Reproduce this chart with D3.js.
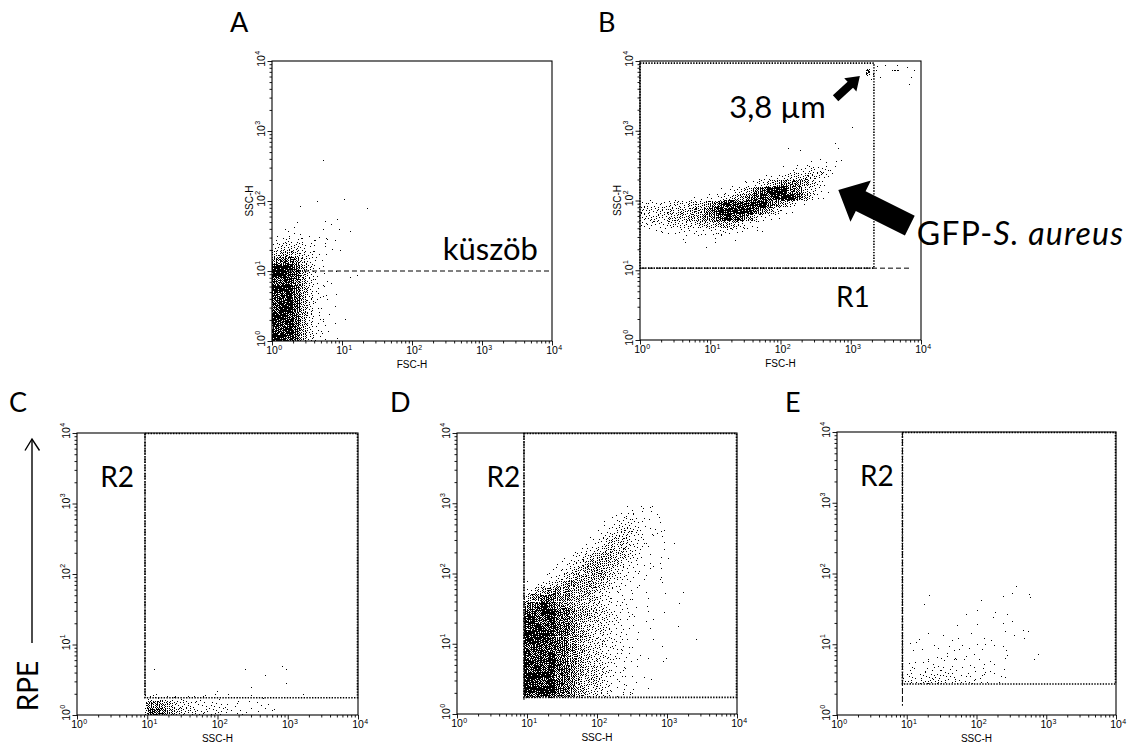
<!DOCTYPE html>
<html><head><meta charset="utf-8">
<script src="https://cdn.jsdelivr.net/npm/d3@7"></script>
<style>
html,body{margin:0;padding:0;background:#fff;}
svg{display:block;}
</style></head><body>
<svg id="chart" width="1131" height="744"></svg>
<script>
// ---------------- DATA (log10 units unless noted) ----------------
const tickExponents = [0, 1, 2, 3, 4];
const panelLetters = ["A", "B", "C", "D", "E"];
const xTitles = ["FSC-H", "FSC-H", "SSC-H", "SSC-H", "SSC-H"];
const yTitles = ["SSC-H", "SSC-H", "", "", ""];
// density level (0-9) -> number of events per 0.1x0.1 decade cell
const levelCounts = [0, 1, 2, 4, 7, 11, 16, 23, 32, 45];

// density rows: [row (y, 0.1 decade), first column (x, 0.1 decade), levels]
const aCloud = [
  [15, 0, "01111"], [14, 0, "12322111"], [13, 0, "34443211"], [12, 0, "56654321"],
  [11, 0, "78875321"], [10, 0, "99986421"], [9, 0, "99986421"], [8, 0, "99986421"],
  [7, 0, "99986421"], [6, 0, "99986421"], [5, 0, "99986421"], [4, 0, "99986421"],
  [3, 0, "99986421"], [2, 0, "99986421"], [1, 0, "99986421"], [0, 0, "99986421"]
];
const aEvents = [[0.73,2.58],[0.65,2.0],[1.03,2.02],[0.4,1.92],[1.37,1.89],[0.76,1.71],[0.93,1.73],
  [0.85,1.66],[0.37,1.7],[0.32,1.62],[1.12,1.56],[0.96,1.59],[0.73,1.59],[0.06,1.44],[0.25,1.5],
  [0.44,1.47],[0.61,1.43],[0.68,1.48],[0.79,1.45],[0.9,1.44],[0.98,1.3],[0.87,1.31],[0.77,1.35],
  [1.22,0.93],[1.12,0.91],[0.92,0.99],[0.92,0.67],[0.91,0.49],[1.05,0.31],[0.82,0.38],[0.73,0.28],
  [0.81,0.14],[0.9,0.25],[0.94,0.04],[0.7,0.13],[0.74,0.63],[0.85,0.82],[0.75,0.78]];

const bCloud = [
  [25, 24, "11111"], [24, 20, "11234332"], [23, 17, "12234555431"], [22, 14, "1234567776532"],
  [21, 11, "1234578999875421"], [20, 7, "11223456789999986421"],
  [19, 0, "333344455678999999876421"], [18, 0, "4444555667899999876421"],
  [17, 0, "44445556677899875321"], [16, 0, "33334444555665421"],
  [15, 2, "1112222233322111"], [14, 6, "10101101"]
];
const bEvents = [[3.22,3.82],[3.23,3.84],[3.24,3.86],[3.25,3.83],[3.26,3.85],[3.24,3.88],[3.23,3.80],
  [3.26,3.81],[3.25,3.87],[3.22,3.86],[3.27,3.84],[3.24,3.82],[3.25,3.85],[3.23,3.87],[3.26,3.88],
  [3.24,3.79],[3.36,3.87],[3.42,3.76],[3.30,3.73],[3.50,3.93],[3.60,3.86],[3.62,3.86],[3.64,3.86],
  [3.66,3.87],[3.68,3.86],[3.67,3.93],[3.81,3.90],[3.87,3.76],[3.84,3.67],[3.91,3.87],[3.33,3.80],
  [3.38,3.92],[3.03,3.04],[2.12,2.74],[2.29,2.72],[2.79,2.82],[2.83,2.75],[0.94,1.32],[0.65,1.40],
  [1.08,1.40],[0.51,1.53],[0.3,1.55]];

const cCloud = [
  [2, 9, "2332221111111101010"],
  [1, 9, "5776544332322211111"],
  [0, 9, "68876544333322221111"]
];
const cEvents = [[1.1,0.64],[2.4,0.64],[2.69,0.56],[2.93,0.69],[2.98,0.64],[2.98,0.44],[2.48,0.39],
  [2.0,0.34],[3.22,0.29]];

const dCloud = [
  [29, 24, "1011"], [28, 22, "1122111"], [27, 21, "12333211"], [26, 20, "1234432111"],
  [25, 19, "12344432111"], [24, 18, "123455432101"], [23, 17, "1234555432101"],
  [22, 15, "123456655432101"], [21, 14, "1234566654321101"], [20, 13, "12345666543221101"],
  [19, 12, "123456666543221101"], [18, 10, "12345676665432211001"], [17, 9, "235677766654322110101"],
  [16, 9, "4678877665543221101"], [15, 9, "6889877655443221101"], [14, 9, "8999988766544322101"],
  [13, 9, "9999988765544322101"], [12, 9, "9999988765443221101"], [11, 9, "99999887654432211"],
  [10, 9, "99999887654433211"], [9, 9, "99999887654433211"], [8, 9, "999998876544322101"],
  [7, 9, "999998876544332210101"], [6, 9, "99999887655432211"], [5, 9, "999998876554322111"],
  [4, 9, "9999988765543221101"], [3, 9, "9999988765443221101"], [2, 9, "99999887654432211"]
];
const dEvents = [[3.42,1.06],[3.16,1.25],[2.97,1.44],[3.23,1.73],[3.18,1.58],[2.93,0.96],[2.95,0.75],
  [3.1,2.42],[3.02,2.22],[2.94,2.53],[2.81,2.54],[2.9,1.91],[2.8,2.1],[2.81,1.34],[2.81,1.06],
  [2.79,2.95],[2.64,2.95],[2.9,2.72],[2.52,2.86]];

const eCloud = [
  [7, 9, "1111211111101101"], [6, 9, "1212222211211101"],
  [5, 9, "2323333322221111"], [4, 9, "3434444333222111"]
];
const eEvents = [[2.57,1.81],[2.52,1.72],[2.76,1.70],[2.78,1.66],[2.38,1.67],[2.07,1.62],[1.32,1.69],
  [1.26,1.56],[2.01,1.47],[2.27,1.45],[1.85,1.42],[2.45,1.42],[2.24,1.38],[2.52,1.32],[2.38,1.30],
  [1.73,1.26],[2.02,1.28],[2.67,1.20],[2.75,1.18],[2.41,1.18],[2.55,1.12],[1.93,1.15],[1.53,1.13],
  [1.31,1.15],[1.18,1.07],[2.69,1.08],[2.11,1.08],[1.74,1.08],[1.66,1.06],[1.05,1.01],[1.14,1.02],
  [2.21,1.05],[2.13,1.00],[1.40,0.98],[1.62,0.97],[1.80,0.98],[2.02,0.99],[2.26,0.98],[2.38,0.97],
  [1.46,0.94],[1.23,0.92],[1.10,0.91],[1.75,0.93],[1.90,0.94],[2.09,0.93],[2.43,0.91],[2.89,0.85],
  [2.83,0.79],[2.44,0.84],[1.97,0.86],[1.85,0.82],[1.58,0.83],[1.69,0.91],[1.59,0.87],[1.44,0.81],
  [1.31,0.79],[1.71,0.78],[2.05,0.79],[2.20,0.76]];

// gates (log10): A threshold; B region R1; C-E region R2
const aThreshold = 1.0;
const bGate = { threshold: 1.03, lineEnd: 3.84, right: 3.33, top: 3.97 };
const r2Gates = [
  { x: 0.968, y: 0.245, markerEnd: 0.24 },
  { x: 0.957, y: 0.236, markerEnd: 0.20 },
  { x: 0.938, y: 0.438, markerEnd: 0.13 }
];

// ---------------- LAYOUT ----------------
const frames = [
  { x: 272, y: 61, w: 280, h: 280, lx: 230, ly: 32 },
  { x: 640, y: 61, w: 281, h: 279, lx: 598, ly: 32 },
  { x: 77, y: 433, w: 281, h: 282, lx: 9, ly: 412 },
  { x: 457, y: 433, w: 280, h: 281, lx: 390, ly: 412 },
  { x: 837, y: 432, w: 279, h: 283, lx: 785, ly: 412 }
];
const clouds = [aCloud, bCloud, cCloud, dCloud, eCloud];
const events = [aEvents, bEvents, cEvents, dEvents, eEvents];

const svg = d3.select("#chart");
const BIG = "Lato, 'Open Sans', sans-serif";
const SMALL = "'Liberation Sans', Arial, sans-serif";
const frac = v => v - Math.floor(v);
// deterministic per-cell offset of the dither pattern (placement only, not data)
function cellHash(n) {
  n = Math.imul(n ^ (n >>> 16), 0x45d9f3b);
  n = Math.imul(n ^ (n >>> 16), 0x45d9f3b);
  n = n ^ (n >>> 16);
  return (n >>> 0) / 4294967296;
}

function cloudEvents(rows, clip) {
  const out = [];
  rows.forEach(([r, c0, s]) => {
    [...s].forEach((ch, k) => {
      const c = c0 + k, n = levelCounts[+ch];
      const s1 = cellHash(r * 101 + c * 7 + 13);
      const s2 = cellHash(r * 211 + c * 31 + 977);
      for (let i = 0; i < n; i++) {
        const lx = (c + frac(s1 + (i + 1) * 0.7548776662)) / 10;
        const ly = (r + frac(s2 + (i + 1) * 0.5698402910)) / 10;
        if (clip && (lx < clip[0] || ly < clip[1])) continue;
        out.push([lx, ly]);
      }
    });
  });
  return out;
}

const minorVals = [];
for (let d = 0; d < 4; d++) for (let m = 2; m <= 9; m++) minorVals.push(m * Math.pow(10, d));
const majorVals = tickExponents.map(e => Math.pow(10, e));

frames.forEach((F, idx) => {
  const x = d3.scaleLog().domain([1, 1e4]).range([F.x, F.x + F.w]);
  const y = d3.scaleLog().domain([1, 1e4]).range([F.y + F.h, F.y]);
  const g = svg.append("g").attr("class", "panel-" + panelLetters[idx]);

  let clip = null;
  if (idx >= 2) { const gt = r2Gates[idx - 2]; clip = [gt.x, idx === 2 ? 0 : gt.y]; }
  const pts = cloudEvents(clouds[idx], clip).concat(events[idx])
    .filter(p => p[0] >= 0 && p[0] <= 4 && p[1] >= 0 && p[1] <= 4)
    .map(p => [Math.pow(10, p[0]), Math.pow(10, p[1])]);
  g.append("g").attr("shape-rendering", "crispEdges").selectAll("rect").data(pts).join("rect")
    .attr("x", d => Math.floor(x(d[0]))).attr("y", d => Math.floor(y(d[1])))
    .attr("width", 1).attr("height", 1).attr("fill", "#000");

  // axes (ticks only, outward)
  const bottom = g.append("g").attr("transform", `translate(0,${F.y + F.h})`);
  bottom.call(d3.axisBottom(x).tickValues(minorVals).tickSize(2.5).tickSizeOuter(0).tickFormat(""));
  bottom.append("g").call(d3.axisBottom(x).tickValues(majorVals).tickSize(4.5).tickSizeOuter(0).tickFormat(""));
  const left = g.append("g").attr("transform", `translate(${F.x},0)`);
  left.call(d3.axisLeft(y).tickValues(minorVals).tickSize(2.5).tickSizeOuter(0).tickFormat(""));
  left.append("g").call(d3.axisLeft(y).tickValues(majorVals).tickSize(4.5).tickSizeOuter(0).tickFormat(""));
  g.selectAll(".domain").remove();
  g.selectAll(".tick line").attr("stroke", "#000").attr("stroke-width", 0.9);

  // frame
  g.append("rect").attr("x", F.x).attr("y", F.y).attr("width", F.w).attr("height", F.h)
    .attr("fill", "none").attr("stroke", "#000").attr("stroke-width", 1.1);

  // tick labels
  tickExponents.forEach(e => {
    const v = Math.pow(10, e);
    g.append("text").attr("font-family", SMALL).attr("font-size", 10.5).attr("text-anchor", "middle")
      .attr("x", x(v)).attr("y", F.y + F.h + 13).text("10");
    g.append("text").attr("font-family", SMALL).attr("font-size", 7)
      .attr("x", x(v) + 6.3).attr("y", F.y + F.h + 8.5).text(String(e));
    const ty = g.append("g").attr("transform", `translate(${F.x - 7.5},${y(v)}) rotate(-90)`);
    ty.append("text").attr("font-family", SMALL).attr("font-size", 10.5).attr("text-anchor", "middle").text("10");
    ty.append("text").attr("font-family", SMALL).attr("font-size", 7).attr("x", 6.3).attr("y", -4.5).text(String(e));
  });
  g.append("text").attr("font-family", SMALL).attr("font-size", 10).attr("text-anchor", "middle")
    .attr("x", F.x + F.w / 2).attr("y", F.y + F.h + 27).text(xTitles[idx]);
  if (yTitles[idx]) {
    g.append("text").attr("font-family", SMALL).attr("font-size", 10).attr("text-anchor", "middle")
      .attr("transform", `translate(${F.x - 19},${F.y + F.h / 2}) rotate(-90)`).text(yTitles[idx]);
  }
  // panel letter
  svg.append("text").attr("font-family", BIG).attr("font-size", 27).attr("x", F.lx).attr("y", F.ly)
    .text(panelLetters[idx]);

  const P = (lx, ly) => [x(Math.pow(10, lx)), y(Math.pow(10, ly))];
  const dotted = sel => sel.attr("fill", "none").attr("stroke", "#000").attr("stroke-width", 1.6).attr("stroke-dasharray", "1.4,1.4");

  if (idx === 0) {
    g.append("line").attr("x1", x(1)).attr("x2", x(1e4)).attr("y1", y(Math.pow(10, aThreshold))).attr("y2", y(Math.pow(10, aThreshold)))
      .attr("stroke", "#000").attr("stroke-width", 1).attr("stroke-dasharray", "5,3");
    const [tx, ty] = P(2.44, 1.16);
    g.append("text").attr("font-family", BIG).attr("font-size", 31).attr("x", tx).attr("y", ty).text("küszöb");
  }
  if (idx === 1) {
    const yt = y(Math.pow(10, bGate.threshold));
    g.append("line").attr("x1", x(1)).attr("x2", x(Math.pow(10, bGate.lineEnd))).attr("y1", yt).attr("y2", yt)
      .attr("stroke", "#000").attr("stroke-width", 1).attr("stroke-dasharray", "5,3");
    const [rx, ry] = P(bGate.right, bGate.top);
    g.append("rect").attr("x", x(1)).attr("y", ry).attr("width", rx - x(1)).attr("height", yt - ry).call(dotted);
    const [t1x, t1y] = P(1.27, 3.18);
    g.append("text").attr("font-family", BIG).attr("font-size", 31).attr("x", t1x).attr("y", t1y).text("3,8 µm");
    const [r1x, r1y] = P(2.79, 0.48);
    g.append("text").attr("font-family", BIG).attr("font-size", 28).attr("x", r1x).attr("y", r1y).text("R1");
    const [gx, gy] = P(3.94, 1.36);
    const gt = g.append("text").attr("font-family", BIG).attr("font-size", 32).attr("letter-spacing", 1.2)
      .attr("x", gx).attr("y", gy);
    gt.append("tspan").text("GFP-");
    gt.append("tspan").attr("font-style", "italic").text("S. aureus");

    const arrow = (tip, tail, sw, hw, hl) => {
      const dx = tail[0] - tip[0], dy = tail[1] - tip[1], L = Math.hypot(dx, dy);
      const ux = dx / L, uy = dy / L, nx = -uy, ny = ux;
      const hb = [tip[0] + ux * hl, tip[1] + uy * hl];
      const pts = [tip, [hb[0] + nx * hw / 2, hb[1] + ny * hw / 2], [hb[0] + nx * sw / 2, hb[1] + ny * sw / 2],
        [tail[0] + nx * sw / 2, tail[1] + ny * sw / 2], [tail[0] - nx * sw / 2, tail[1] - ny * sw / 2],
        [hb[0] - nx * sw / 2, hb[1] - ny * sw / 2], [hb[0] - nx * hw / 2, hb[1] - ny * hw / 2]];
      g.append("polygon").attr("points", pts.map(p => p.join(",")).join(" ")).attr("fill", "#000");
    };
    const bigTip = P(2.823, 2.15);
    arrow(bigTip, [bigTip[0] + 71.5, bigTip[1] + 35.5], 22, 46, 25);
    const smallTip = P(3.13, 3.785);
    arrow(smallTip, [smallTip[0] - 24.3, smallTip[1] + 22.3], 8, 18, 13);
  }
  if (idx >= 2) {
    const gt = r2Gates[idx - 2];
    const gx = x(Math.pow(10, gt.x)), gy = y(Math.pow(10, gt.y));
    g.append("rect").attr("x", gx).attr("y", F.y + 0.5).attr("width", F.x + F.w - 0.5 - gx).attr("height", gy - F.y - 0.5).call(dotted);
    g.append("line").attr("x1", gx).attr("x2", gx).attr("y1", F.y).attr("y2", y(Math.pow(10, gt.markerEnd)))
      .attr("stroke", "#000").attr("stroke-width", 1).attr("stroke-dasharray", "6,2");
    const [tx, ty] = P(idx === 2 ? 0.33 : (idx === 3 ? 0.42 : 0.33), 3.23);
    g.append("text").attr("font-family", BIG).attr("font-size", 28).attr("x", tx).attr("y", ty).text("R2");
  }
});

// RPE axis annotation (left of panel C)
const rpe = svg.append("g");
rpe.append("line").attr("x1", 32).attr("x2", 32).attr("y1", 643).attr("y2", 439).attr("stroke", "#000").attr("stroke-width", 1.4);
rpe.append("polyline").attr("points", "25,450.5 32,439 39.5,450.5").attr("fill", "none").attr("stroke", "#000").attr("stroke-width", 1.4);
rpe.append("text").attr("font-family", BIG).attr("font-size", 28).attr("text-anchor", "middle")
  .attr("transform", "translate(38,686) rotate(-90)").text("RPE");
</script>
</body></html>
